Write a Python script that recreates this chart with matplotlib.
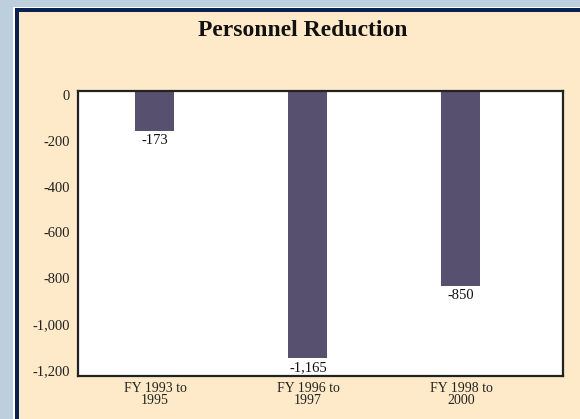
import matplotlib
matplotlib.use("Agg")
import matplotlib.pyplot as plt
import matplotlib.transforms as mtransforms
from matplotlib.patches import Rectangle
from matplotlib.ticker import FuncFormatter

categories = ["FY 1993 to\n1995", "FY 1996 to\n1997", "FY 1998 to\n2000"]
values = [-173, -1165, -850]
yticks = [0, -200, -400, -600, -800, -1000, -1200]

W, H = 580, 419
fig = plt.figure(figsize=(W / 100, H / 100), dpi=100)
fig.patch.set_facecolor("#bdcedc")

def px_rect(x0, y0, x1, y1, color):
    fig.patches.append(Rectangle((x0 / W, 1 - y1 / H), (x1 - x0) / W, (y1 - y0) / H,
                                 transform=fig.transFigure, facecolor=color,
                                 edgecolor="none", zorder=-10))

px_rect(13, 7, W + 5, H + 5, "#ffffff")
px_rect(15, 8, W + 5, H + 5, "#0c2153")
px_rect(19, 12, W + 5, H + 5, "#feeac8")

ax = fig.add_axes([78 / W, 1 - 376 / H, (563 - 78) / W, (376 - 91) / H])
ax.set_zorder(5)
ax.set_facecolor("white")
x = list(range(len(categories)))
ax.bar(x, values, width=0.255, color="#57506e", zorder=2)
ax.set_xlim(-0.503, 2.667)
ax.set_ylim(-1245, 0)
ax.set_yticks(yticks)
ax.yaxis.set_major_formatter(FuncFormatter(lambda v, p: f"{int(v):,}"))
ax.set_xticks(x)
ax.set_xticklabels(categories, fontfamily="Liberation Serif", fontsize=10, linespacing=0.95)
ax.tick_params(axis="both", length=0, colors="#222222")
ax.tick_params(axis="y", pad=6)
ax.tick_params(axis="x", pad=4)
shift = mtransforms.ScaledTranslation(0, -4 / 100, fig.dpi_scale_trans)
for tick in ax.yaxis.get_major_ticks():
    lab = tick.label1
    lab.set_fontfamily("Liberation Serif")
    lab.set_fontsize(10.5)
    lab.set_transform(lab.get_transform() + shift)
for s in ax.spines.values():
    s.set_color("#222222")
    s.set_linewidth(1.6)

for xi, v in zip(x, values):
    ax.annotate(f"{v:,}", (xi, v), xytext=(0, -2.5), textcoords="offset points",
                ha="center", va="top", fontfamily="Liberation Serif", fontsize=10.5,
                color="#111111", zorder=3)

fig.text(303 / W, 1 - 31 / H, "Personnel Reduction", ha="center", va="center",
         fontfamily="Liberation Serif", fontweight="bold", fontsize=17, color="#111111",
         zorder=6)

fig.savefig("out.png", dpi=100, facecolor=fig.get_facecolor())
